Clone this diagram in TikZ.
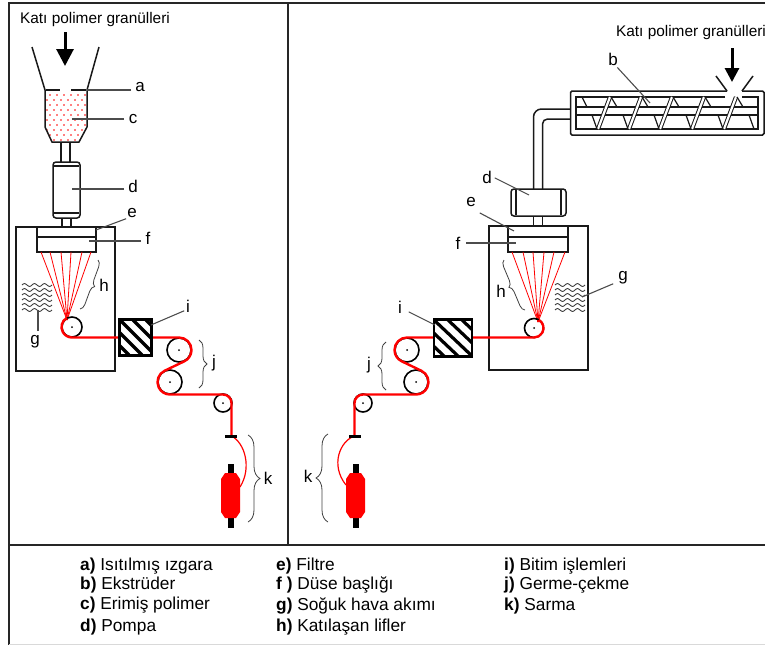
\documentclass[tikz,border=0pt]{standalone}
\usepackage{fontspec}
\setmainfont{Liberation Sans}
\usetikzlibrary{arrows.meta,decorations.pathreplacing}
\tikzset{
  part/.style={line width=1.5pt,black!90},
  frameline/.style={line width=1.9pt,black!85},
  lbl/.style={inner sep=0pt,font=\fontsize{17}{18}\selectfont},
  leader/.style={line width=1.1pt,black!70,shorten <=2pt},
  roller/.style={circle,draw,line width=1.6pt,inner sep=0pt,minimum size=#1},
  thread/.style={red,line width=2.4pt},
  fibre/.style={red,line width=.8pt},
  airwave/.style={black!75,line width=.9pt,samples=40,domain=0:30},
  curly/.style={line width=.8pt,black!75,decorate,decoration={brace,amplitude=#1}},
  legend/.style={anchor=west,inner sep=0pt,font=\fontsize{17.3}{18}\selectfont},
  feed/.style={-{Triangle[length=#1,width=#1]},line width=3pt}
}
\begin{document}
\begin{tikzpicture}[x=1pt,y=1pt]
    \useasboundingbox (0,0) rectangle (765,-645);
    % frame
    \draw [frameline] (765,-3) -- (9,-3) -- (9,-645);
    \draw [frameline] (288,-3) -- (288,-545);
    \draw [frameline] (9,-545) -- (765,-545);
    \draw [black!15,line width=.8pt] (9,-644.5) -- (765,-644.5);
    %
    % left line
    \node [lbl,font=\fontsize{15.4}{17}\selectfont] (feedL) at (95,-20) {Katı polimer granülleri};
    \coordinate (feedLend) at (65,-66);
    \draw [feed=17pt] (65,-32) -- (feedLend);
    \begin{scope}
        \clip (45,-90) -- (45,-127) -- (52,-142) -- (79,-142) -- (87,-127) -- (87,-90) -- cycle;
        \foreach \y [count=\i] in {-95,-100,-105,-110,-115,-120,-125,-130,-135,-140} {
            \foreach \x in {47,54,...,89}
                \fill [red] ({\x+mod(\i,2)*3},\y) circle (.9);
        }
    \end{scope}
    \draw [part] (32,-47) -- (45,-90) -- (45,-127) -- (52,-142) -- (79,-142) -- (87,-127) -- (87,-90) -- (99,-47);
    \draw [part,line width=1.9pt] (46,-90) -- (60,-90) (71,-90) -- (86,-90);
    \draw [part] (61,-142) -- (61,-162) (70,-142) -- (70,-162);
    \draw [part,rounded corners=3pt] (53,-162) rectangle (80,-218);
    \draw [part] (54,-166) -- (79,-166) (54,-213) -- (79,-213);
    \draw [part] (62,-218) -- (62,-227) (71,-218) -- (71,-227);
    \draw [part] (16,-227) rectangle (115,-371);
    \draw [part,line width=1.7pt] (37,-227) rectangle (96,-252);
    \draw [part,line width=1.7pt] (37,-237) -- (96,-237);
    \coordinate (fanL) at (67,-320);
    \foreach \x in {41,50,61,71,82,91}
        \draw [fibre] (\x,-252) -- (fanL);
    \foreach \y in {0,5,...,25}
        \draw [airwave] plot ({22+\x},{-285+\y*(-1)+1.4*sin(36*\x)});
    \node [roller=20pt] (r1L) at (72,-327) {};
    \node [roller=24pt] (r2L) at (179,-350) {};
    \node [roller=24pt] (r3L) at (170,-382) {};
    \node [roller=18pt] (r4L) at (223,-403) {};
    \foreach \r in {r1L,r2L,r3L,r4L}
        \fill [black] (\r.center) circle (1);
    \draw [thread] (66.75,-317.9) arc [start angle=120,end angle=270,radius=10.5] -- (120,-337.5);
    \draw [thread] (151,-337.5) -- (179,-337.5) arc [start angle=90,end angle=-65,radius=12.5]
        -- (164.7,-370.7) arc [start angle=115,end angle=270,radius=12.5] -- (223,-394.5)
        arc [start angle=90,end angle=0,radius=8.5] -- (231.5,-436);
    \draw [fibre,line width=1.2pt] (231.5,-436) .. controls (245,-443) and (252,-468) .. (240,-487);
    \draw [black,line width=3pt] (225,-436) -- (237,-436);
    \fill [black] (228,-464) rectangle (233.5,-528);
    \fill [red] (225,-473) -- (236,-473) -- (240,-479) -- (240,-512) -- (236,-518) -- (225,-518) -- (221,-512) -- (221,-479) -- cycle;
    \node [draw,line width=1.6pt,fill=white,minimum width=31pt,minimum height=35pt,inner sep=0pt] (blockL) at (135.5,-337.5) {};
    \begin{scope}
        \clip (blockL.south west) rectangle (blockL.north east);
        \foreach \s in {-26,-13,...,26}
            \draw [line width=3.2pt] (120+\s,-320) -- (155+\s,-355);
    \end{scope}
    \draw [line width=1.6pt] (blockL.south west) rectangle (blockL.north east);
    \draw [curly=6pt] (98,-260) -- (80,-309);
    \draw [curly=8pt] (199,-340) -- (199,-388);
    \draw [curly=12pt] (248,-435) -- (248,-522);
    % labels left
    \node [lbl] (a) at (140,-87) {a};
    \node [lbl] (c) at (133,-119) {c};
    \node [lbl] (d) at (133,-186) {d};
    \node [lbl] (e) at (132,-213) {e};
    \node [lbl] (f) at (148,-238) {f};
    \node [lbl] (g) at (35,-342) {g};
    \node [lbl] (h) at (104,-285) {h};
    \node [lbl] (i) at (188,-306) {i};
    \node [lbl] (j) at (214,-363) {j};
    \node [lbl] (k) at (268,-478) {k};
    \coordinate (ca) at (87,-90);
    \coordinate (cc) at (72,-119);
    \coordinate (cd) at (72,-189);
    \coordinate (ce) at (96,-230);
    \coordinate (cf) at (89,-241);
    \coordinate (cg) at (38,-310);
    \coordinate (ci) at (151,-325);
    \draw [leader] (a.west) ++(-2,-3) coordinate (a1) -- (ca);
    \draw [leader] (c) ++(-7,0) coordinate (c1) -- (cc);
    \draw [leader] (d) ++(-7,-3) coordinate (d1) -- (cd);
    \draw [leader] (e) ++(-4,-5) coordinate (e1) -- (ce);
    \draw [leader] (f) ++(-5,-3) coordinate (f1) -- (cf);
    \draw [leader] (g) ++(3,9) coordinate (g1) -- (cg);
    \draw [leader] (i) ++(-2,-4) coordinate (i1) -- (ci);
    %
    % right line
    \node [lbl,font=\fontsize{15.4}{17}\selectfont] (feedR) at (691,-33) {Katı polimer granülleri};
    \coordinate (feedRend) at (732,-82);
    \draw [feed=14pt] (732,-48) -- (feedRend);
    \draw [part] (716,-76) -- (727,-91) (753,-76) -- (742,-91);
    \draw [part,rounded corners=1.5pt] (727,-91) -- (570.5,-91) -- (570.5,-135) -- (764,-135) -- (764,-91) -- (742,-91);
    \draw [part,line width=1.3pt] (725,-97) -- (576,-97) -- (576,-129) -- (758,-129) -- (758,-97) -- (742,-97);
    \draw [part,line width=1.1pt] (576,-107) -- (758,-107) (576,-115) -- (758,-115);
    \draw [part,line width=1.2pt] (582,-97) -- (587,-107);
    \foreach \x in {598,629,660,692,724} {
        \draw [part,line width=1pt,double,double distance=2.2pt] (\x,-129) -- (\x+12,-97);
        \draw [part,line width=1.2pt] (\x-6,-115) -- (\x-1,-129);
        \draw [part,line width=1.2pt] (\x+13,-97) -- (\x+19,-107);
    }
    \draw [part,line width=1.2pt] (749,-115) -- (754,-129);
    \draw [part,rounded corners=8pt] (570,-109) -- (533.5,-109) -- (533.5,-189);
    \draw [part,rounded corners=5pt] (570,-119) -- (542.5,-119) -- (542.5,-189);
    \draw [part,rounded corners=3pt] (511,-189) rectangle (566,-216);
    \draw [part] (516,-190) -- (516,-215) (561,-190) -- (561,-215);
    \draw [part] (533.5,-216) -- (533.5,-226) (542.5,-216) -- (542.5,-226);
    \draw [part] (489,-226) rectangle (588,-370);
    \draw [part,line width=1.7pt] (508,-226) rectangle (568,-252);
    \draw [part,line width=1.7pt] (508,-237) -- (568,-237);
    \coordinate (fanR) at (538,-322);
    \foreach \x in {512,523,533,544,554,565}
        \draw [fibre] (\x,-252) -- (fanR);
    \foreach \y in {0,5,...,25}
        \draw [airwave] plot ({555+\x},{-285+\y*(-1)+1.4*sin(36*\x)});
    \node [roller=19pt] (r1R) at (534,-328) {};
    \node [roller=24pt] (r2R) at (407,-350) {};
    \node [roller=24pt] (r3R) at (416,-382) {};
    \node [roller=18pt] (r4R) at (363,-403) {};
    \foreach \r in {r1R,r2R,r3R,r4R}
        \fill [black] (\r.center) circle (1);
    \draw [thread] (538.75,-319.8) arc [start angle=60,end angle=-90,radius=9.5] -- (472,-337.5);
    \draw [thread] (434,-337.5) -- (407,-337.5) arc [start angle=90,end angle=245,radius=12.5]
        -- (421.3,-370.7) arc [start angle=65,end angle=-90,radius=12.5] -- (363,-394.5)
        arc [start angle=90,end angle=180,radius=8.5] -- (354.5,-436);
    \draw [fibre,line width=1.2pt] (354.5,-436) .. controls (340,-441) and (330,-465) .. (346,-485);
    \draw [black,line width=3pt] (349,-436) -- (361,-436);
    \fill [black] (353,-464) rectangle (358.5,-528);
    \fill [red] (350,-473) -- (361,-473) -- (365,-479) -- (365,-512) -- (361,-518) -- (350,-518) -- (346,-512) -- (346,-479) -- cycle;
    \node [draw,line width=1.6pt,fill=white,minimum width=37pt,minimum height=36pt,inner sep=0pt] (blockR) at (453,-338) {};
    \begin{scope}
        \clip (blockR.south west) rectangle (blockR.north east);
        \foreach \s in {-28,-14,...,28}
            \draw [line width=3.2pt] (434+\s,-320) -- (472+\s,-356);
    \end{scope}
    \draw [line width=1.6pt] (blockR.south west) rectangle (blockR.north east);
    \draw [curly=6pt] (525,-310) -- (504,-260);
    \draw [curly=8pt] (386,-390) -- (386,-342);
    \draw [curly=12pt] (328,-522) -- (328,-434);
    % labels right
    \node [lbl] (bR) at (613,-59) {b};
    \node [lbl] (dR) at (487,-177) {d};
    \node [lbl] (eR) at (471,-202) {e};
    \node [lbl] (fR) at (458,-243) {f};
    \node [lbl] (gR) at (623,-278) {g};
    \node [lbl] (hR) at (501,-291) {h};
    \node [lbl] (iR) at (400,-307) {i};
    \node [lbl] (jR) at (369,-365) {j};
    \node [lbl] (kR) at (308,-476) {k};
    \coordinate (cb) at (650,-103);
    \coordinate (cdR) at (529,-195);
    \coordinate (ceR) at (514,-231);
    \coordinate (cfR) at (516,-243);
    \coordinate (cgR) at (582,-297);
    \coordinate (ciR) at (435,-325);
    \draw [leader] (bR) ++(3,-7) coordinate (b1) -- (cb);
    \draw [leader] (dR) ++(6,0) coordinate (d2) -- (cdR);
    \draw [leader] (eR) ++(7,-10) coordinate (e2) -- (ceR);
    \draw [leader] (fR) ++(6,0) coordinate (f2) -- (cfR);
    \draw [leader] (gR) ++(-8,-5) coordinate (g2) -- (cgR);
    \draw [leader] (iR) ++(7,-4) coordinate (i2) -- (ciR);
    %
    % legend
    \node [legend] (la) at (80,-566) {\textbf{a)} Isıtılmış ızgara};
    \node [legend] (lb) at (80,-585) {\textbf{b)} Ekstrüder};
    \node [legend] (lc) at (80,-605) {\textbf{c)} Erimiş polimer};
    \node [legend] (ld) at (80,-627) {\textbf{d)} Pompa};
    \node [legend] (le) at (276,-566) {\textbf{e)} Filtre};
    \node [legend] (lf) at (276,-585) {\textbf{f )} Düse başlığı};
    \node [legend] (lg) at (276,-606) {\textbf{g)} Soğuk hava akımı};
    \node [legend] (lh) at (276,-627) {\textbf{h)} Katılaşan lifler};
    \node [legend] (li) at (504,-566) {\textbf{i)} Bitim işlemleri};
    \node [legend] (lj) at (504,-585) {\textbf{j)} Germe-çekme};
    \node [legend] (lk) at (504,-606) {\textbf{k)} Sarma};
\end{tikzpicture}
\end{document}
